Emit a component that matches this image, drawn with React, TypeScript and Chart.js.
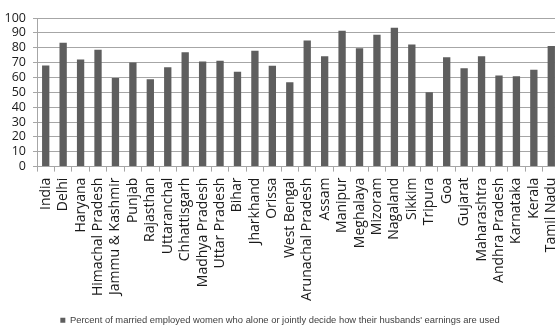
import React, { useEffect, useRef } from "react";
import { Chart, registerables } from "chart.js";

Chart.register(...registerables);

const categories = [
  "India", "Delhi", "Haryana", "Himachal Pradesh", "Jammu & Kashmir", "Punjab", "Rajasthan",
  "Uttaranchal", "Chhattisgarh", "Madhya Pradesh", "Uttar Pradesh", "Bihar", "Jharkhand",
  "Orissa", "West Bengal", "Arunachal Pradesh", "Assam", "Manipur", "Meghalaya", "Mizoram",
  "Nagaland", "Sikkim", "Tripura", "Goa", "Gujarat", "Maharashtra", "Andhra Pradesh",
  "Karnataka", "Kerala", "Tamil Nadu",
];

const values = [
  68.0, 83.4, 72.1, 78.6, 59.7, 70.1, 58.8, 66.9, 77.0, 70.7, 71.2, 63.8, 77.9, 67.8, 56.8,
  84.9, 74.3, 91.5, 79.7, 88.8, 93.5, 82.2, 50.0, 73.6, 66.2, 74.3, 61.3, 60.8, 65.1, 81.1,
];

const seriesLabel =
  "Percent of married employed women who alone or jointly decide how their husbands' earnings are used";

const yMin = 0;
const yMax = 100;
const yStep = 10;

export default function App() {
  const ref = useRef<HTMLCanvasElement | null>(null);

  useEffect(() => {
    if (!ref.current) return;
    const chart = new Chart(ref.current, {
      type: "bar",
      data: {
        labels: categories,
        datasets: [
          {
            label: seriesLabel,
            data: values,
            backgroundColor: "#5e5e5e",
            borderWidth: 0,
            barPercentage: 0.42,
            categoryPercentage: 1,
          },
        ],
      },
      options: {
        responsive: false,
        animation: false,
        layout: { padding: { top: 18, left: 0, right: 0, bottom: -8 } },
        plugins: {
          tooltip: { enabled: false },
          legend: {
            position: "bottom",
            labels: {
              boxWidth: 5,
              boxHeight: 5,
              padding: 4,
              color: "#404040",
              font: { family: "'Liberation Sans Narrow', 'Liberation Sans', sans-serif", size: 9.4 },
            },
          },
        },
        scales: {
          x: {
            grid: {
              offset: true,
              drawOnChartArea: false,
              tickLength: 5,
              color: "#a6a6a6",
            },
            border: { color: "#a6a6a6" },
            ticks: {
              minRotation: 90,
              maxRotation: 90,
              autoSkip: false,
              color: "#1a1a1a",
              padding: 6,
              font: { family: "'Open Sans', sans-serif", size: 14 },
            },
            afterFit: (scale: any) => {
              scale.height = 145;
              scale.paddingRight = 0;
              scale.paddingLeft = 0;
            },
          },
          y: {
            min: yMin,
            max: yMax,
            ticks: {
              stepSize: yStep,
              autoSkip: false,
              color: "#1a1a1a",
              padding: 7,
              font: { family: "'Open Sans', sans-serif", size: 12.5 },
            },
            grid: { color: "#a6a6a6", tickLength: 4 },
            border: { color: "#a6a6a6" },
            afterFit: (scale: any) => {
              scale.width = 37;
            },
          },
        },
      },
    });
    return () => chart.destroy();
  }, []);

  return (
    <div
      style={{
        position: "fixed",
        left: 0,
        top: 0,
        width: 555,
        height: 327,
        overflow: "hidden",
        background: "#fff",
      }}
    >
      <canvas ref={ref} width={560} height={327} style={{ display: "block" }} />
    </div>
  );
}
